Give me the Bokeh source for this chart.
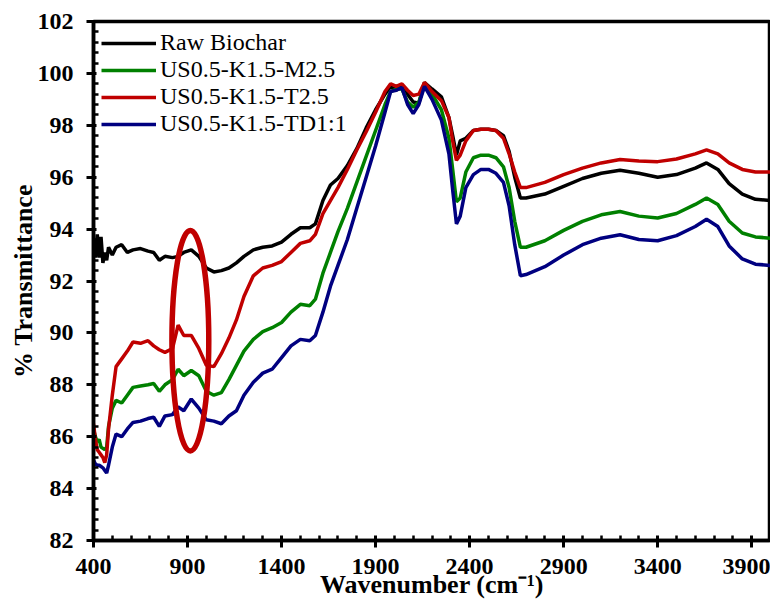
from bokeh.plotting import figure
from bokeh.models import FixedTicker, Legend, LegendItem, Range1d
from bokeh.embed import file_html
from bokeh.resources import INLINE

wavenumber = [400, 410, 420, 430, 440, 450, 460, 470, 480, 500, 520, 550, 580, 610, 650, 690, 720, 750,
              780, 820, 850, 880, 920, 960, 1000, 1040, 1080, 1120, 1160, 1200, 1250, 1300, 1350, 1400,
              1450, 1500, 1550, 1580, 1620, 1660, 1700, 1750, 1800, 1850, 1900, 1950, 1980, 2010, 2040,
              2070, 2100, 2130, 2160, 2200, 2250, 2290, 2310, 2330, 2350, 2380, 2420, 2460, 2500, 2540,
              2580, 2610, 2640, 2670, 2700, 2800, 2900, 3000, 3100, 3200, 3300, 3400, 3500, 3600, 3660,
              3720, 3780, 3850, 3920, 4000]

raw_biochar = [93.6, 92.9, 93.8, 92.9, 93.7, 92.7, 93.1, 92.8, 93.3, 93.0, 93.3, 93.4, 93.1, 93.2, 93.25,
               93.15, 93.1, 92.8, 92.95, 92.9, 92.95, 93.1, 93.2, 92.95, 92.5, 92.35, 92.4, 92.5, 92.7,
               92.95, 93.2, 93.3, 93.35, 93.5, 93.8, 94.05, 94.05, 94.2, 95.1, 95.7, 95.95, 96.45, 97.1,
               97.9, 98.6, 99.2, 99.5, 99.35, 99.55, 99.2, 98.9, 98.85, 99.65, 99.4, 99.1, 98.3, 97.6,
               96.85, 97.4, 97.5, 97.8, 97.85, 97.85, 97.8, 97.6, 97.0, 96.0, 95.2, 95.2, 95.35, 95.65,
               95.95, 96.15, 96.27, 96.15, 96.0, 96.1, 96.35, 96.55, 96.3, 95.75, 95.35, 95.15, 95.1]

us_m25 = [86.3, 86.0, 85.8, 85.9, 85.6, 85.55, 85.5, 85.6, 86.4, 87.1, 87.4, 87.3, 87.6, 87.9, 87.95,
          88.0, 88.05, 87.75, 88.0, 88.2, 88.6, 88.35, 88.55, 88.35, 87.75, 87.6, 87.7, 88.2, 88.75,
          89.3, 89.75, 90.05, 90.2, 90.4, 90.8, 91.1, 91.05, 91.3, 92.3, 93.1, 93.9, 94.8, 95.8, 96.8,
          97.8, 98.8, 99.3, 99.4, 99.4, 98.9, 98.7, 98.9, 99.55, 99.2, 98.6, 97.5, 96.3, 95.05, 95.2,
          96.2, 96.75, 96.85, 96.85, 96.75, 96.4, 95.6, 94.3, 93.3, 93.3, 93.55, 93.95, 94.3, 94.55,
          94.68, 94.5, 94.43, 94.6, 94.95, 95.2, 94.95, 94.3, 93.85, 93.7, 93.65]

us_t25 = [86.5, 85.9, 85.5, 85.4, 85.3, 85.2, 85.0, 85.3, 86.3, 87.6, 88.7, 89.0, 89.3, 89.65, 89.6,
          89.7, 89.5, 89.35, 89.25, 89.4, 90.3, 89.9, 89.9, 89.4, 88.75, 88.7, 89.2, 89.8, 90.5, 91.4,
          92.2, 92.5, 92.6, 92.75, 93.1, 93.45, 93.55, 93.8, 94.6, 95.1, 95.6, 96.3, 97.05, 97.75, 98.5,
          99.3, 99.6, 99.5, 99.6, 99.35, 99.15, 99.2, 99.65, 99.3, 98.95, 98.3, 97.4, 96.65, 96.85,
          97.4, 97.8, 97.85, 97.85, 97.8, 97.5, 96.9, 96.2, 95.6, 95.6, 95.8, 96.1, 96.35, 96.55,
          96.68, 96.62, 96.6, 96.7, 96.9, 97.05, 96.9, 96.55, 96.3, 96.2, 96.2]

us_td11 = [85.1, 84.95, 84.9, 84.9, 84.85, 84.8, 84.7, 84.6, 84.9, 85.6, 86.1, 86.0, 86.3, 86.55, 86.6,
           86.7, 86.75, 86.4, 86.8, 86.85, 87.15, 87.0, 87.45, 87.1, 86.65, 86.6, 86.5, 86.8, 87.0,
           87.6, 88.1, 88.45, 88.6, 89.05, 89.5, 89.75, 89.7, 89.9, 90.8, 91.8, 92.6, 93.6, 94.8, 96.0,
           97.2, 98.5, 99.3, 99.35, 99.45, 98.8, 98.45, 98.8, 99.5, 99.0, 98.2, 96.9, 95.5, 94.2, 94.5,
           95.6, 96.1, 96.3, 96.3, 96.15, 95.8, 94.9, 93.4, 92.2, 92.25, 92.55, 93.0, 93.4, 93.65,
           93.78, 93.6, 93.55, 93.75, 94.1, 94.38, 94.1, 93.35, 92.85, 92.65, 92.6]

series_names = ["Raw Biochar", "US0.5-K1.5-M2.5", "US0.5-K1.5-T2.5", "US0.5-K1.5-TD1:1"]
series_values = [raw_biochar, us_m25, us_t25, us_td11]
series_colors = ["#000000", "#008000", "#C00000", "#000080"]

x_ticks = [400, 900, 1400, 1900, 2400, 2900, 3400, 3900]
y_ticks = [82, 84, 86, 88, 90, 92, 94, 96, 98, 100, 102]

x_title = "Wavenumber (cm⁻¹)"
y_title = "% Transmittance"

# highlighted region (ellipse)
ellipse_x = [915]
ellipse_y = [89.7]
ellipse_w = [196]
ellipse_h = [8.5]

FONT = "Liberation Serif"

p = figure(width=770, height=602, output_backend="svg", toolbar_location=None,
           x_range=Range1d(400, 4000), y_range=Range1d(82, 102),
           min_border_left=93, min_border_right=0, min_border_top=21, min_border_bottom=62)
p.background_fill_color = "white"
p.border_fill_color = "white"
p.outline_line_color = "black"
p.outline_line_width = 3.5
p.xgrid.visible = False
p.ygrid.visible = False

items = []
for name, vals, col in zip(series_names, series_values, series_colors):
    r = p.line(wavenumber, vals, line_color=col, line_width=3.5)
    items.append(LegendItem(label=name, renderers=[r]))

p.ellipse(x=ellipse_x, y=ellipse_y, width=ellipse_w, height=ellipse_h,
          fill_alpha=0, line_color="#C00000", line_width=5.5)

minor_x = [v for v in range(400, 4001, 100) if v not in x_ticks]
minor_y = [round(82 + 0.4 * i, 2) for i in range(51)]
minor_y = [v for v in minor_y if v not in y_ticks]

p.xaxis.ticker = FixedTicker(ticks=x_ticks, minor_ticks=minor_x)
p.yaxis.ticker = FixedTicker(ticks=y_ticks, minor_ticks=minor_y)

for ax in (p.xaxis, p.yaxis):
    ax.axis_line_width = 3.5
    ax.axis_line_color = "black"
    ax.major_tick_line_width = 3
    ax.minor_tick_line_width = 2.5
    ax.major_tick_line_color = "black"
    ax.minor_tick_line_color = "black"
    ax.major_label_text_font = FONT
    ax.major_label_text_font_style = "bold"
    ax.major_label_text_font_size = "24px"
    ax.major_label_text_color = "black"
    ax.axis_label_text_font = FONT
    ax.axis_label_text_font_style = "bold"
    ax.axis_label_text_font_size = "26px"
    ax.axis_label_text_color = "black"

p.xaxis.major_tick_out = 7
p.xaxis.major_tick_in = 5
p.xaxis.minor_tick_in = 5
p.xaxis.minor_tick_out = 0
p.xaxis.major_label_standoff = 11
p.xaxis.axis_label = x_title
p.xaxis.axis_label_standoff = -7

p.yaxis.major_tick_out = 7
p.yaxis.major_tick_in = 3
p.yaxis.minor_tick_in = 5
p.yaxis.minor_tick_out = 0
p.yaxis.major_label_standoff = 13
p.yaxis.axis_label = y_title
p.yaxis.axis_label_standoff = -3

legend = Legend(items=items, location="top_left")
legend.label_text_font = FONT
legend.label_text_font_size = "24px"
legend.label_text_color = "black"
legend.glyph_width = 55
legend.glyph_height = 26
legend.label_height = 26
legend.spacing = 0
legend.padding = 0
legend.margin = 8
legend.label_standoff = 4
legend.background_fill_alpha = 0
legend.border_line_alpha = 0
p.add_layout(legend)

open("out.html", "w").write(file_html(p, INLINE))
